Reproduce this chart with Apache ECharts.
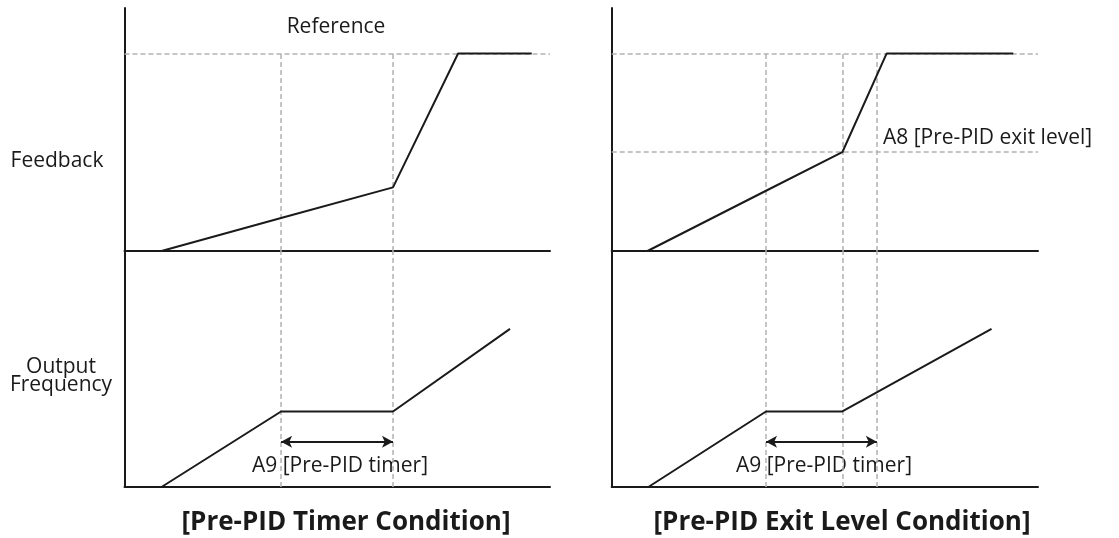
<!DOCTYPE html>
<html>
<head>
<meta charset="utf-8">
<script src="https://cdn.jsdelivr.net/npm/echarts@6/dist/echarts.min.js"></script>
<style>
  html, body { margin: 0; padding: 0; background: #fff; }
  #chart { width: 1119px; height: 538px; }
</style>
</head>
<body>
<div id="chart"></div>
<script>
// time axis 0..100 per panel, feedback: reference = 100, output: 0..100
const timerFeedback = [[8.7, 0], [36.8, 16.7], [63.1, 32.2], [78.4, 100], [95.7, 100]];
const timerOutput = [[8.7, 0], [36.8, 32], [63.1, 32], [90.6, 67]];
const timerMarks = [36.8, 63.1];

const exitFeedback = [[8.4, 0], [36.2, 30.5], [54.1, 50], [64.5, 100], [94.2, 100]];
const exitOutput = [[8.6, 0], [36.2, 32], [54.1, 32], [89.1, 67]];
const exitMarks = [36.2, 54.1, 62.2];

const referenceLevel = 100;
const exitLevel = 50;
const arrowLevel = 19.2;

const panelTitles = ["[Pre-PID Timer Condition]", "[Pre-PID Exit Level Condition]"];
const timerLabel = "A9 [Pre-PID timer]";
const exitLabel = "A8 [Pre-PID exit level]";

const FONT = "Open Sans";
const INK = "#1a1a1a";
const DASH = { color: "#b3b3b3", width: 1.5, type: [5, 3] };

const chart = echarts.init(document.getElementById("chart"));

const grids = [
  { left: 124.5, top: 8, width: 425.5, height: 243 },
  { left: 124.5, top: 251, width: 425.5, height: 236 },
  { left: 611.7, top: 8, width: 426.3, height: 243 },
  { left: 611.7, top: 251, width: 426.3, height: 236 }
];

const axisLine = { show: true, onZero: false, lineStyle: { color: INK, width: 2 } };
const hidden = { axisTick: { show: false }, axisLabel: { show: false }, splitLine: { show: false } };

const xAxes = grids.map((g, i) => ({ type: "value", gridIndex: i, min: 0, max: 100, axisLine, ...hidden }));
const yAxes = grids.map((g, i) => ({
  type: "value", gridIndex: i, min: 0, max: i % 2 === 0 ? 123 : 100, axisLine, ...hidden
}));

const lineStyle = { color: INK, width: 2 };

function dataLine(idx, data, extra) {
  return Object.assign({
    type: "line", xAxisIndex: idx, yAxisIndex: idx, data,
    symbol: "none", lineStyle, silent: true, animation: false, z: 5
  }, extra || {});
}

function topMarks(marks, levels) {
  const lines = levels.map(l => ({ yAxis: l }));
  marks.forEach(x => lines.push([{ coord: [x, 0] }, { coord: [x, referenceLevel] }]));
  return { symbol: "none", silent: true, label: { show: false }, lineStyle: DASH, data: lines, animation: false };
}

function bottomMarks(marks, from, to) {
  const lines = marks.map(x => ({ xAxis: x }));
  lines.push([
    { coord: [from, arrowLevel], symbol: "arrow", symbolSize: [9, 11], lineStyle: { color: INK, width: 2, type: "solid" } },
    { coord: [to, arrowLevel], symbol: "arrow", symbolSize: [9, 11] }
  ]);
  return { symbol: "none", silent: true, label: { show: false }, lineStyle: DASH, data: lines, animation: false };
}

const txt = (x, y, text, align, size, weight) => ({
  type: "text",
  style: {
    x, y, text, align, verticalAlign: "middle",
    font: `${weight || "normal"} ${size}px "${FONT}"`, fill: INK, lineHeight: size * 0.9
  }
});

chart.setOption({
  animation: false,
  grid: grids,
  xAxis: xAxes,
  yAxis: yAxes,
  series: [
    dataLine(0, timerFeedback, { markLine: topMarks(timerMarks, [referenceLevel]) }),
    dataLine(1, timerOutput, { markLine: bottomMarks(timerMarks, timerMarks[0], timerMarks[1]) }),
    dataLine(2, exitFeedback, { markLine: topMarks(exitMarks, [referenceLevel, exitLevel]) }),
    dataLine(3, exitOutput, { markLine: bottomMarks(exitMarks, exitMarks[0], exitMarks[2]) })
  ],
  graphic: [
    txt(336, 27, "Reference", "center", 21),
    txt(57, 161, "Feedback", "center", 21),
    txt(61, 376, "Output\nFrequency", "center", 21),
    txt(883, 138, exitLabel, "left", 21),
    txt(340, 466, timerLabel, "center", 21),
    txt(824, 466, timerLabel, "center", 21),
    txt(346, 523, panelTitles[0], "center", 26, "bold"),
    txt(842, 523, panelTitles[1], "center", 26, "bold")
  ]
});
</script>
</body>
</html>
